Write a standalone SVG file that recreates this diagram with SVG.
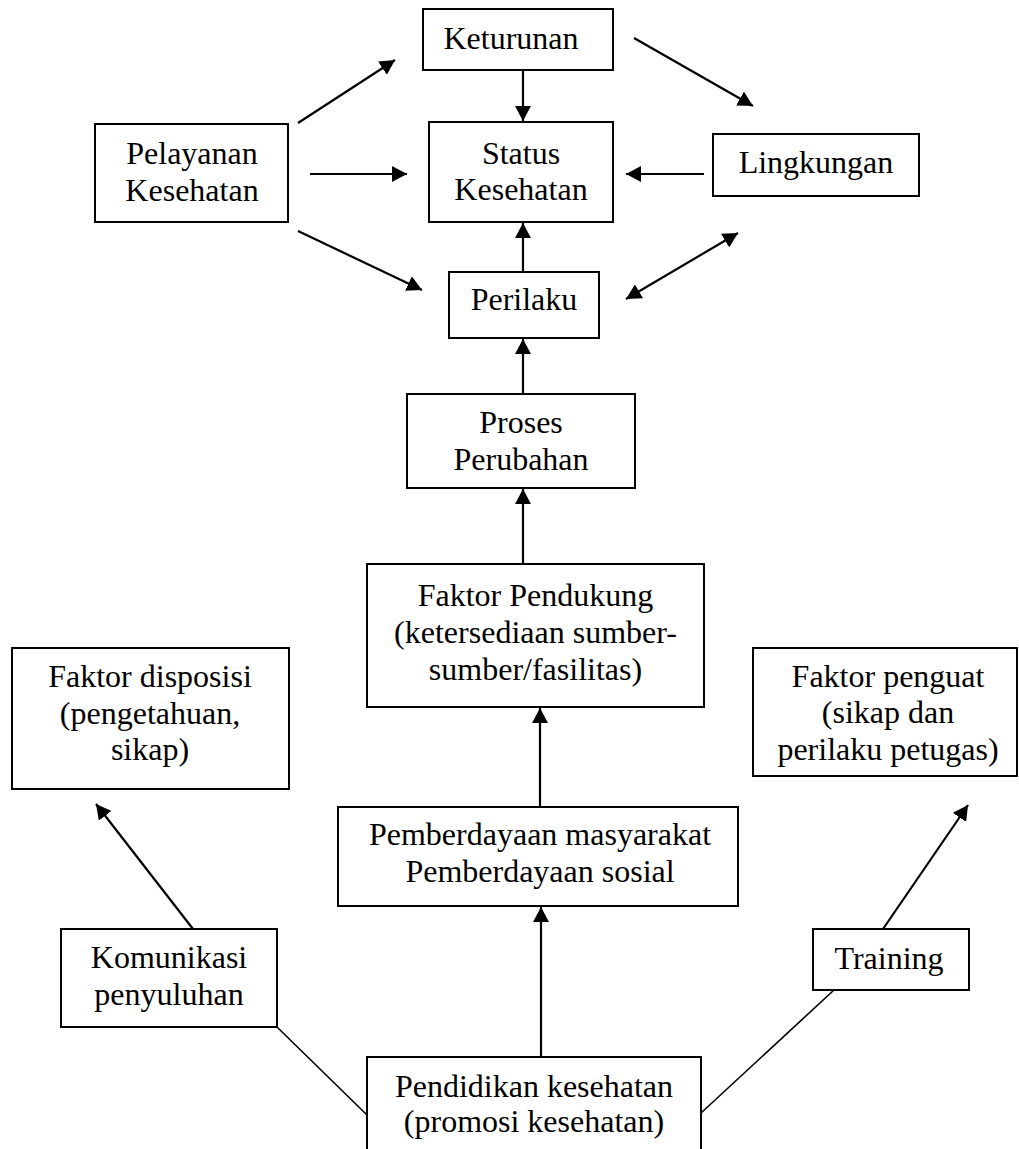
<svg xmlns="http://www.w3.org/2000/svg" width="1019" height="1149" viewBox="0 0 1019 1149">
<style>
  .box { fill: #ffffff; stroke: #000000; stroke-width: 2; }
  .t { font-family: "Liberation Serif", "Times New Roman", serif; font-size: 32px; fill: #000000; text-anchor: middle; }
  .arr { stroke: #000000; stroke-width: 2.2; fill: none; marker-end: url(#ah); }
  .bi { stroke: #000000; stroke-width: 2.2; fill: none; marker-end: url(#ah); marker-start: url(#ahs); }
  .ln { stroke: #000000; stroke-width: 1.6; fill: none; }
</style>
<defs>
  <marker id="ah" markerUnits="userSpaceOnUse" markerWidth="16" markerHeight="16" refX="15" refY="8" orient="auto">
    <path d="M0,0 L15,8 L0,16 z" fill="#000000"/>
  </marker>
  <marker id="ahs" markerUnits="userSpaceOnUse" markerWidth="16" markerHeight="16" refX="0" refY="8" orient="auto">
    <path d="M15,0 L0,8 L15,16 z" fill="#000000"/>
  </marker>
</defs>
<rect width="1019" height="1149" fill="#ffffff"/>

<g id="connectors">
  <line class="arr" x1="523" y1="70" x2="523" y2="121"/>
  <line class="arr" x1="298" y1="123" x2="395" y2="60"/>
  <line class="arr" x1="310" y1="174" x2="407" y2="174"/>
  <line class="arr" x1="298" y1="231" x2="422" y2="290"/>
  <line class="arr" x1="634" y1="38" x2="753" y2="106"/>
  <line class="arr" x1="704" y1="174" x2="626" y2="174"/>
  <line class="arr" x1="523" y1="272" x2="523" y2="223"/>
  <line class="bi" x1="626" y1="299" x2="738" y2="233"/>
  <line class="arr" x1="523" y1="394" x2="523" y2="339"/>
  <line class="arr" x1="523" y1="564" x2="523" y2="489"/>
  <line class="arr" x1="540" y1="807" x2="540" y2="708"/>
  <line class="arr" x1="541" y1="1057" x2="541" y2="907"/>
  <line class="arr" x1="193" y1="929" x2="96" y2="804"/>
  <line class="arr" x1="883" y1="929" x2="968" y2="805"/>
  <line class="ln" x1="277" y1="1027" x2="367" y2="1115"/>
  <line class="ln" x1="834" y1="990" x2="701" y2="1113"/>
</g>

<g id="keturunan">
  <rect class="box" x="423" y="9" width="190" height="61"/>
  <text class="t" x="511" y="49">Keturunan</text>
</g>
<g id="status-kesehatan">
  <rect class="box" x="429" y="122" width="184" height="100"/>
  <text class="t" x="521" y="164">Status</text>
  <text class="t" x="521" y="200">Kesehatan</text>
</g>
<g id="pelayanan-kesehatan">
  <rect class="box" x="95" y="124" width="193" height="98"/>
  <text class="t" x="192" y="164">Pelayanan</text>
  <text class="t" x="192" y="201">Kesehatan</text>
</g>
<g id="lingkungan">
  <rect class="box" x="713" y="134" width="206" height="62"/>
  <text class="t" x="816" y="173">Lingkungan</text>
</g>
<g id="perilaku">
  <rect class="box" x="449" y="272" width="150" height="66"/>
  <text class="t" x="524" y="310">Perilaku</text>
</g>
<g id="proses-perubahan">
  <rect class="box" x="407" y="394" width="228" height="94"/>
  <text class="t" x="521" y="433">Proses</text>
  <text class="t" x="521" y="470">Perubahan</text>
</g>
<g id="faktor-pendukung">
  <rect class="box" x="367" y="564" width="337" height="143"/>
  <text class="t" x="535.5" y="606">Faktor Pendukung</text>
  <text class="t" x="535.5" y="643">(ketersediaan sumber-</text>
  <text class="t" x="535.5" y="680">sumber/fasilitas)</text>
</g>
<g id="faktor-disposisi">
  <rect class="box" x="12" y="648" width="277" height="141"/>
  <text class="t" x="150" y="687">Faktor disposisi</text>
  <text class="t" x="150" y="724">(pengetahuan,</text>
  <text class="t" x="150" y="760">sikap)</text>
</g>
<g id="faktor-penguat">
  <rect class="box" x="753" y="648" width="264" height="128"/>
  <text class="t" x="888" y="687">Faktor penguat</text>
  <text class="t" x="888" y="723">(sikap dan</text>
  <text class="t" x="888" y="760">perilaku petugas)</text>
</g>
<g id="pemberdayaan">
  <rect class="box" x="338" y="807" width="400" height="99"/>
  <text class="t" x="540" y="845">Pemberdayaan masyarakat</text>
  <text class="t" x="540" y="882">Pemberdayaan sosial</text>
</g>
<g id="komunikasi-penyuluhan">
  <rect class="box" x="61" y="929" width="216" height="98"/>
  <text class="t" x="169" y="968">Komunikasi</text>
  <text class="t" x="169" y="1005">penyuluhan</text>
</g>
<g id="training">
  <rect class="box" x="813" y="929" width="156" height="61"/>
  <text class="t" x="889" y="969">Training</text>
</g>
<g id="pendidikan-kesehatan">
  <rect class="box" x="367" y="1057" width="334" height="110"/>
  <text class="t" x="534" y="1097">Pendidikan kesehatan</text>
  <text class="t" x="534" y="1132">(promosi kesehatan)</text>
</g>
</svg>
